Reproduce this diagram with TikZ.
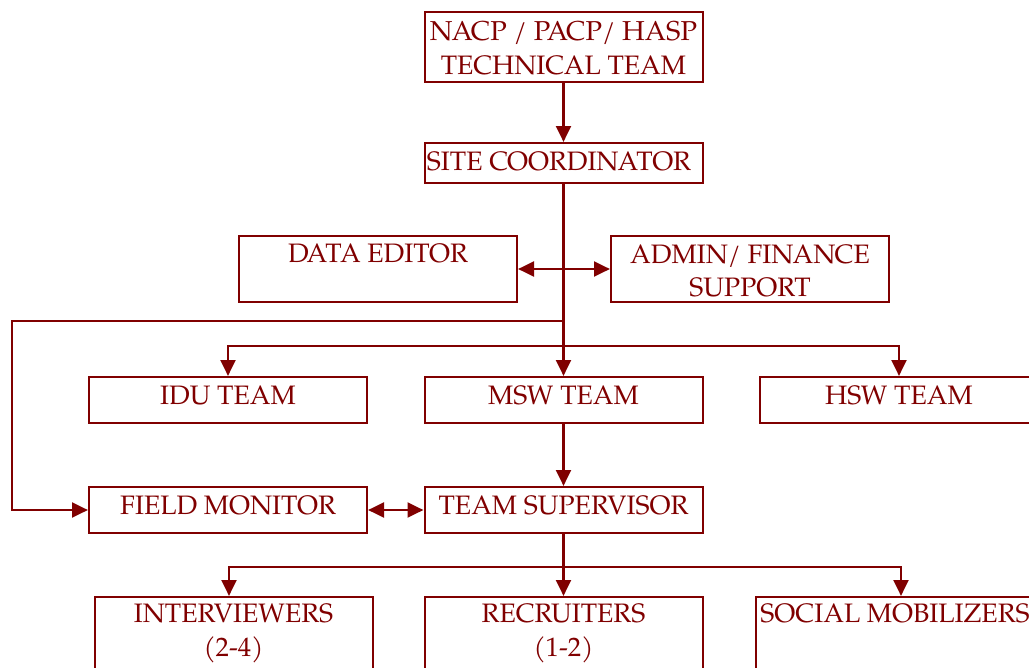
\documentclass[tikz,border=0pt]{standalone}
\usepackage{fontspec}
\setmainfont{TeX Gyre Pagella}
\usetikzlibrary{arrows.meta}
\definecolor{dred}{RGB}{128,0,0}
\tikzset{
  box/.style={draw=dred, line width=1.5pt, rectangle, inner sep=0pt, minimum width=278*0.75pt},
  txt/.style={text=dred, inner sep=0pt, anchor=base, font=\fontsize{20}{24}\selectfont},
  conn/.style={draw=dred, line width=2.2pt},
  arr/.style={conn, -{Triangle[length=12pt,width=11pt]}},
  darr/.style={conn, {Triangle[length=12pt,width=11pt]}-{Triangle[length=12pt,width=11pt]}},
}
\begin{document}
\begin{tikzpicture}[x=0.75pt,y=-0.75pt]
\useasboundingbox (0,0) rectangle (1029,668);
% boxes
\node[box, minimum height=70*0.75pt] (top) at (563.5,47) {};
\node[box, minimum height=40*0.75pt] (site) at (563.5,163) {};
\node[box, minimum height=66*0.75pt] (de) at (378,269) {};
\node[box, minimum height=66*0.75pt] (adm) at (750,269) {};
\node[box, minimum height=46*0.75pt] (idu) at (228,400) {};
\node[box, minimum height=46*0.75pt] (msw) at (563.5,400) {};
\node[box, minimum height=46*0.75pt] (hsw) at (899,400) {};
\node[box, minimum height=46*0.75pt] (fm) at (228,510) {};
\node[box, minimum height=46*0.75pt] (ts) at (563.5,510) {};
\node[box, minimum height=90*0.75pt] (int) at (233.5,642) {};
\node[box, minimum height=90*0.75pt] (rec) at (563.5,642) {};
\node[box, minimum height=90*0.75pt] (soc) at (895,642) {};
% texts
\node[txt, font=\fontsize{20.5}{24}\selectfont] (topa) at (563.5,40) {NACP / PACP/ HASP};
\node[txt] (topb) at (563.5,74) {TECHNICAL TEAM};
\node[txt] (sitet) at (559,170) {SITE COORDINATOR};
\node[txt] (det) at (378,262) {DATA EDITOR};
\node[txt] (adma) at (750,263) {ADMIN/ FINANCE};
\node[txt] (admb) at (750,296) {SUPPORT};
\node[txt] (idut) at (228,404) {IDU TEAM};
\node[txt] (mswt) at (563.5,404) {MSW TEAM};
\node[txt] (hswt) at (899,404) {HSW TEAM};
\node[txt] (fmt) at (228,514) {FIELD MONITOR};
\node[txt] (tst) at (563.5,514) {TEAM SUPERVISOR};
\node[txt] (inta) at (233.5,622) {INTERVIEWERS};
\node[txt] (intb) at (233.5,656) {(2-4)};
\node[txt] (reca) at (563.5,622) {RECRUITERS};
\node[txt] (recb) at (563.5,656) {(1-2)};
\node[txt] (soca) at (895,622) {SOCIAL MOBILIZERS};
% junctions
\coordinate (j2) at (563.5,321);
\coordinate (j3) at (563.5,346);
\coordinate (l1) at (12,321);
\coordinate (l2) at (12,510);
\coordinate (j4) at (563.5,567);
% connectors
\draw[arr] (top) -- (site);
\draw[arr] (site) -- (msw);
\draw[darr] (de) -- (adm);
\draw[arr] (j2) -- (l1) -- (l2) -- (fm);
\draw[arr] (j3) -| (idu);
\draw[arr] (j3) -| (hsw);
\draw[arr] (msw) -- (ts);
\draw[darr] (fm) -- (ts);
\draw[conn] (ts) -- (j4);
\draw[arr] (j4) -| ([xshift=-4.5*0.75pt]int.north);
\draw[arr] (j4) -- (rec);
\draw[arr] (j4) -| ([xshift=6*0.75pt]soc.north);
\end{tikzpicture}
\end{document}
